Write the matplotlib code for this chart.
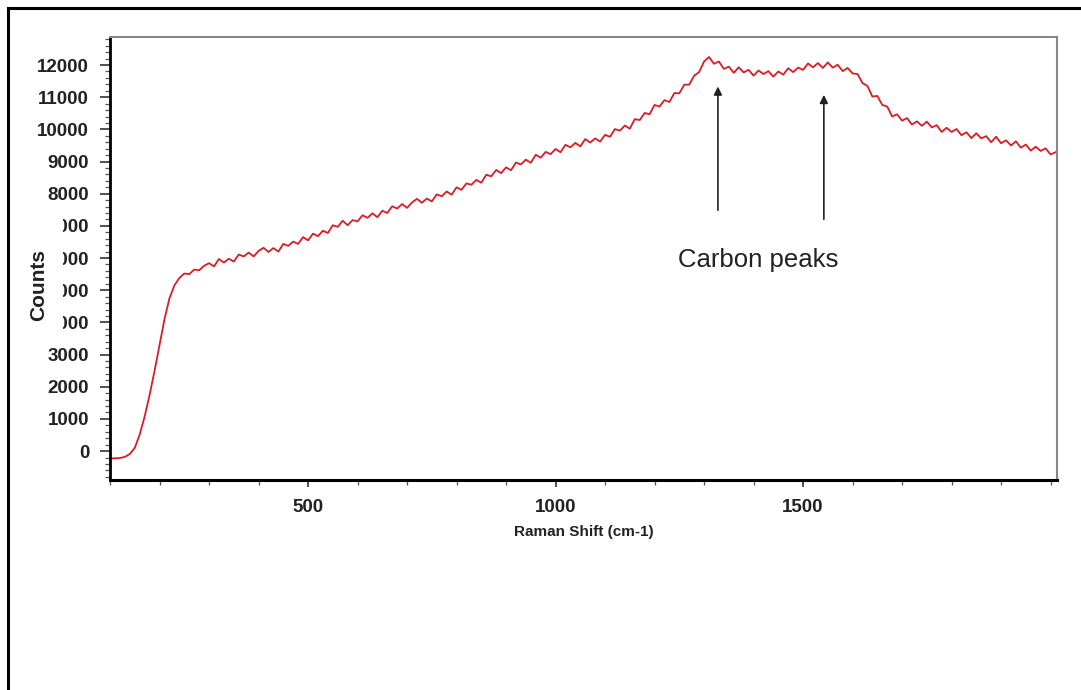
import matplotlib
matplotlib.use('Agg')
import matplotlib.pyplot as plt
from matplotlib.lines import Line2D
from matplotlib.patches import Rectangle
from matplotlib.ticker import MultipleLocator

plt.rcParams['font.family'] = ['Liberation Sans', 'DejaVu Sans']

# spectrum (Raman shift in cm-1, counts)
shift = [100, 110, 120, 130, 140, 150, 160, 170, 180, 190, 200, 210, 220, 230, 240,
         250, 260, 270, 280, 290] + list(range(300, 2011, 10))
counts = [-230, -225, -215, -180, -90, 100, 520, 1080, 1750, 2500, 3300, 4100, 4750, 5150, 5380,
          5520, 5500, 5640, 5620, 5760,
          5840, 5740, 5970, 5860, 5980, 5890, 6110, 6050, 6170, 6050,
          6220, 6320, 6190, 6310, 6200, 6440, 6380, 6510, 6440, 6650,
          6550, 6760, 6680, 6850, 6780, 7020, 6970, 7160, 7020, 7180,
          7140, 7330, 7250, 7390, 7270, 7470, 7400, 7610, 7540, 7680,
          7560, 7730, 7840, 7720, 7850, 7760, 7980, 7920, 8070, 7970,
          8200, 8120, 8320, 8280, 8430, 8340, 8590, 8540, 8740, 8640,
          8820, 8730, 8970, 8910, 9060, 8960, 9210, 9120, 9300, 9230,
          9390, 9290, 9520, 9440, 9580, 9470, 9700, 9590, 9720, 9620,
          9830, 9770, 10010, 9960, 10120, 10020, 10320, 10290, 10510, 10470,
          10760, 10710, 10910, 10850, 11130, 11120, 11390, 11390, 11670, 11780,
          12110, 12250, 12040, 12110, 11880, 11950, 11760, 11930, 11770, 11850,
          11670, 11830, 11720, 11810, 11640, 11800, 11700, 11900, 11780, 11920,
          11850, 12050, 11930, 12060, 11910, 12080, 11920, 12010, 11810, 11910,
          11740, 11720, 11440, 11350, 11020, 11040, 10760, 10710, 10400, 10470,
          10270, 10350, 10150, 10250, 10110, 10240, 10060, 10130, 9920, 10050,
          9920, 10010, 9820, 9910, 9730, 9880, 9720, 9790, 9600, 9770,
          9570, 9660, 9500, 9630, 9430, 9530, 9340, 9460, 9330, 9410,
          9220, 9290]

peak_shift = [1328, 1542]
peak_tip = [11420, 11160]
arrow_tail = [7400, 7120]
label_text = 'Carbon peaks'

fig = plt.figure(figsize=(10.81, 6.9), dpi=100)
ax = fig.add_axes([0.1018, 0.3043, 0.876, 0.642])

ax.plot(shift, counts, color='#dc1c24', lw=1.3)

for xp, tip, tail in zip(peak_shift, peak_tip, arrow_tail):
    ax.annotate('', xy=(xp, tip), xytext=(xp, tail),
                arrowprops=dict(arrowstyle='-|>', color='#222222', lw=1.2, mutation_scale=12))
ax.text(1409, 5940, label_text, fontsize=18.5, ha='center', va='center', color='#222222')

ax.set_xlim(100, 2013)
ax.set_ylim(-900, 12870)
ax.set_xticks([500, 1000, 1500])
ax.xaxis.set_minor_locator(MultipleLocator(100))
ax.set_yticks(range(0, 12001, 1000))
ax.yaxis.set_minor_locator(MultipleLocator(200))

ax.tick_params(axis='both', which='major', labelsize=13.5, width=1.2, length=7, direction='out', color='#333333')
ax.tick_params(axis='y', which='major', pad=8)
ax.tick_params(axis='x', which='major', pad=9, length=5)
ax.tick_params(axis='both', which='minor', length=3.5, width=0.9, color='#555555')
for lab in ax.get_xticklabels() + ax.get_yticklabels():
    lab.set_fontweight('bold')
    lab.set_color('#222222')

ax.spines['left'].set_linewidth(2.0)
ax.spines['bottom'].set_linewidth(2.2)
ax.spines['top'].set_color('#888888')
ax.spines['right'].set_color('#888888')
ax.spines['top'].set_linewidth(1.5)
ax.spines['right'].set_linewidth(1.5)

ax.set_xlabel('Raman Shift (cm-1)', fontsize=11, fontweight='bold', labelpad=6, color='#222222')

# the "Counts" label sits on top of the 4000-7000 tick labels, hiding their first digits
fig.add_artist(Rectangle((12 / 1081, 1 - 338 / 690), 51 / 1081, 125 / 690,
                         transform=fig.transFigure, facecolor='white', edgecolor='none', zorder=5))
fig.text(39 / 1081, 1 - 285 / 690, 'Counts', rotation=90, fontsize=15, fontweight='bold',
         ha='center', va='center', color='#222222', zorder=6)

# outer frame of the picture (left and top only)
fig.add_artist(Line2D([8 / 1081, 8 / 1081], [0, 1 - 8 / 690], transform=fig.transFigure, color='black', lw=2.2))
fig.add_artist(Line2D([8 / 1081, 1], [1 - 8 / 690, 1 - 8 / 690], transform=fig.transFigure, color='black', lw=2.2))

fig.savefig('out.png', dpi=100, facecolor='white')
